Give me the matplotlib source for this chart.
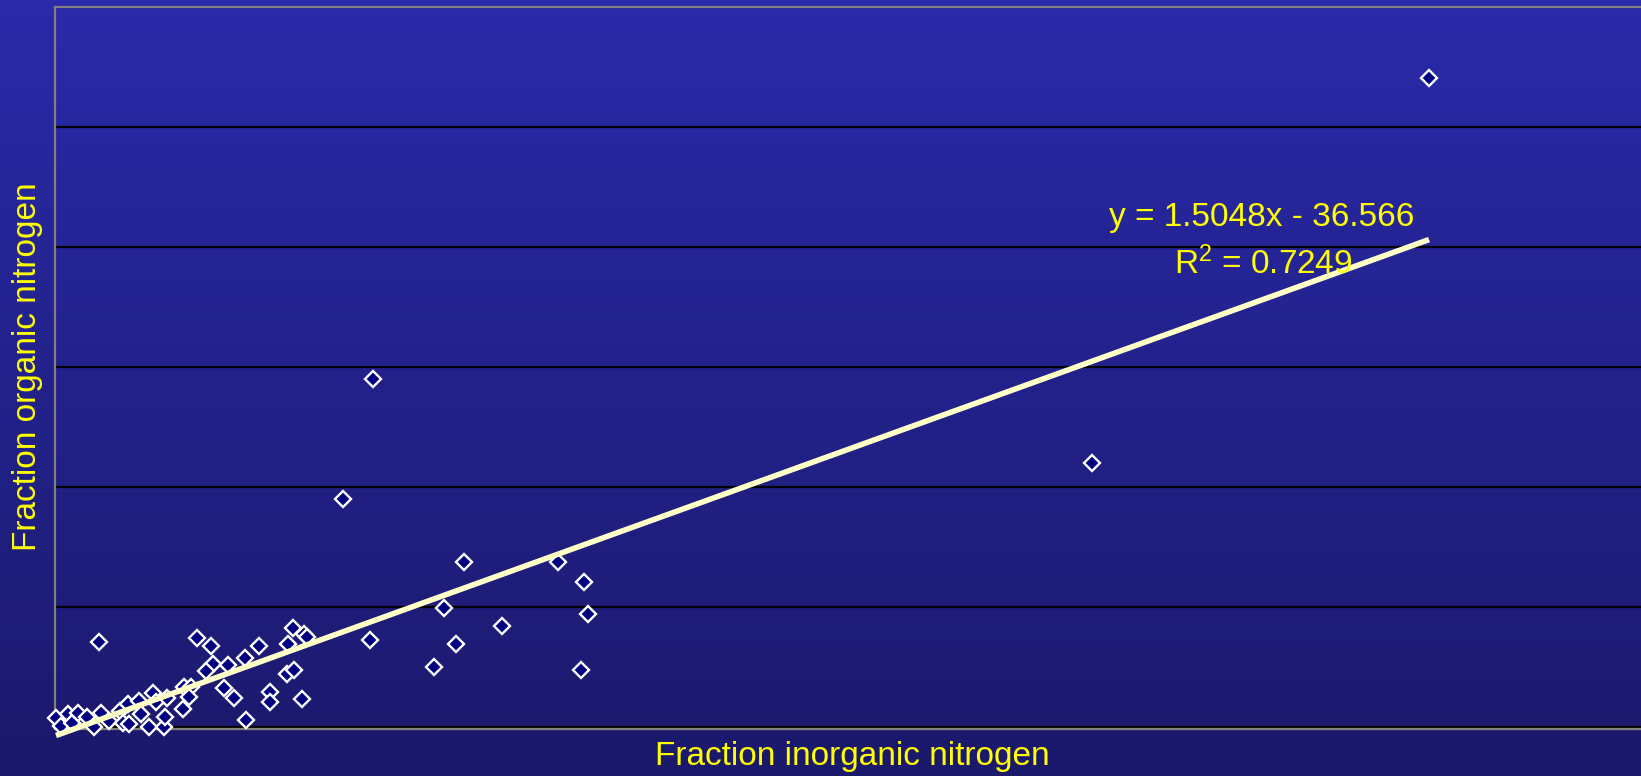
import numpy as np
import matplotlib
matplotlib.use("Agg")
import matplotlib.pyplot as plt
from matplotlib.colors import LinearSegmentedColormap

plt.rcParams['font.family'] = ['Liberation Sans', 'DejaVu Sans']
plt.rcParams['mathtext.fontset'] = 'custom'
plt.rcParams['mathtext.rm'] = 'Liberation Sans'
plt.rcParams['mathtext.it'] = 'Liberation Sans'

# inorganic vs organic nitrogen, one pair per sample
inorganic_n = [1, 6, 12.5, 17, 23, 32, 39, 44, 45.5, 54, 65, 67.5, 72.5, 73.5,
               84, 86, 93.5, 97.5, 101, 109, 109.5, 111.5, 128, 129, 136, 134,
               141.7, 155.7, 157.7, 151, 169, 173, 179, 190, 191, 204, 215, 215,
               231.7, 233, 239, 238, 249, 251.7, 246.7,
               287.7, 317.7, 315, 379, 389, 401, 409, 447, 503, 529, 533, 526,
               1037, 1374]
organic_n = [37.5, 4, 54, 17, 58, 44, 2, 354, 58, 27, 69, 17, 98, 12.5,
             108, 56, 0, 144, 104, 0, 42, 121, 75, 165, 169, 125,
             372, 337.5, 262.5, 233, 164, 258, 122, 289, 29, 337.5, 146, 104,
             221, 348, 237.5, 414.6, 387.5, 375, 117,
             950, 1450, 362.5, 250, 496, 346, 687.5, 421, 687.5, 604, 471, 237.5,
             1100, 2706]

# least-squares trend as reported on the chart
slope = 1.5048
intercept = -36.566
r_squared = 0.7249

fig = plt.figure(figsize=(16.41, 7.76), dpi=100)

# slide background: vertical blue gradient
bg = fig.add_axes([0, 0, 1, 1], zorder=-10)
cmap = LinearSegmentedColormap.from_list('slide', ['#1B196B', '#2A2AAA'])
bg.imshow(np.linspace(0, 1, 256).reshape(-1, 1), cmap=cmap, aspect='auto',
          origin='lower', extent=[0, 1, 0, 1])
bg.set_axis_off()

ax = fig.add_axes([55 / 1641, 47 / 776, 1600 / 1641, 722 / 776])
ax.set_facecolor('none')
ax.set_xlim(0, 1600)
ax.set_ylim(-8, 3000)

ax.set_yticks(np.arange(0, 3001, 500))
ax.set_xticks([])
ax.tick_params(axis='y', length=0, labelleft=False)
ax.yaxis.grid(True, color='black', linewidth=1.6)
ax.set_axisbelow(True)
for side in ['left', 'top', 'bottom']:
    ax.spines[side].set_color('#808080')
    ax.spines[side].set_linewidth(1.6)
ax.spines['right'].set_visible(False)

ax.plot(inorganic_n, organic_n, linestyle='none', marker='D', markersize=8.2,
        markerfacecolor='#000080', markeredgecolor='white',
        markeredgewidth=1.7, zorder=3, clip_on=False)

tx = np.array([min(inorganic_n), max(inorganic_n)])
ax.plot(tx, slope * tx + intercept, color='#FFFFC8', linewidth=4.0,
        solid_capstyle='butt', zorder=4, clip_on=False)

ax.text(1207, 2121, f'y = {slope}x - {abs(intercept)}', color='#FFFF00',
        fontsize=24, ha='center', va='center', zorder=5)
ax.text(1208, 1929, f'R$^2$ = {r_squared}', color='#FFFF00',
        fontsize=24, ha='center', va='center', zorder=5)

fig.text(852 / 1641, 1 - 756 / 776, 'Fraction inorganic nitrogen',
         color='#FFFF00', fontsize=24, ha='center', va='center')
fig.text(28 / 1641, 1 - 367 / 776, 'Fraction organic nitrogen',
         color='#FFFF00', fontsize=24, ha='center', va='center', rotation=90)

fig.savefig('out.png', dpi=100)
